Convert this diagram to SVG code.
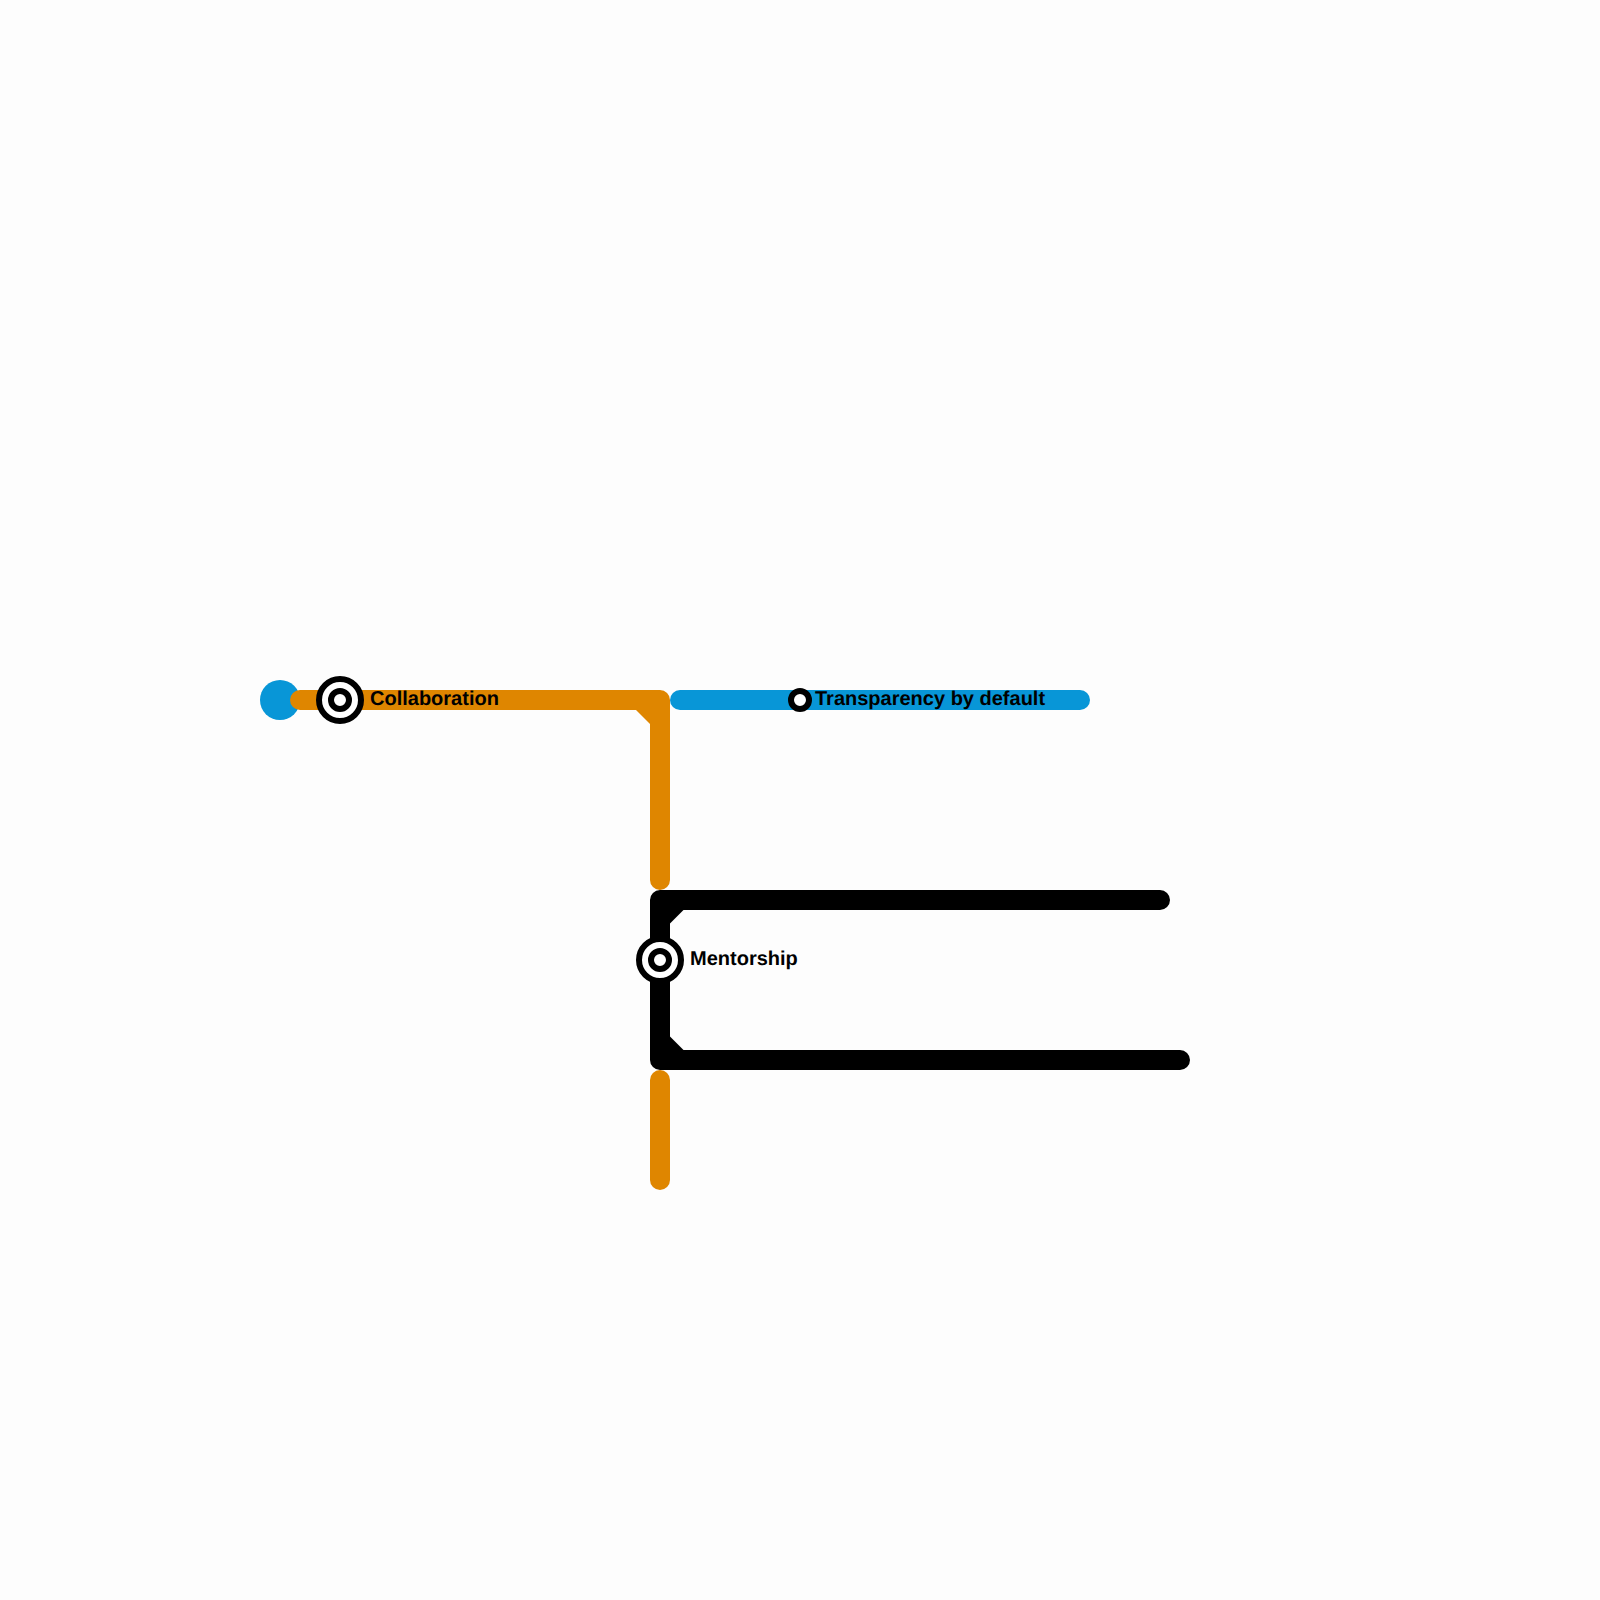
<svg xmlns="http://www.w3.org/2000/svg" width="1600" height="1600" viewBox="0 0 1600 1600">
<style>
.line{fill:none;stroke-width:20;stroke-linecap:round;stroke-linejoin:round}
.orange{stroke:#df8600}
.blue{stroke:#0896d7}
.black{stroke:#000}
.fo{fill:#df8600}
.fk{fill:#000}
.ring{fill:#fff;stroke:#000;stroke-width:6}
.label{font-family:"Liberation Sans",Arial,sans-serif;font-weight:700;font-size:20px;fill:#000;text-rendering:geometricPrecision}
</style>
<rect id="background" width="1600" height="1600" fill="#fdfdfd"/>
<circle id="line-start" cx="280" cy="700" r="20" fill="#0896d7"/>
<g id="connectors">
<path class="line orange" d="M300 700H660V880"/>
<polygon class="fo" points="634,708 652,708 652,726"/>
<path class="line orange" d="M660 1080V1180"/>
<path class="line blue" d="M680 700H1080"/>
<path class="line black" d="M1160 900H660V1060H1180"/>
<polygon class="fk" points="685.500,908 668,908 668,925.500"/>
<polygon class="fk" points="685.500,1052 668,1052 668,1034.500"/>
</g>
<g id="node-collaboration">
<circle class="ring" cx="340" cy="700" r="21"/>
<circle class="ring" cx="340" cy="700" r="9"/>
<text class="label" x="370" y="705">Collaboration</text>
</g>
<g id="node-transparency">
<circle class="ring" cx="800" cy="700" r="9"/>
<text class="label" x="815" y="705">Transparency by default</text>
</g>
<g id="node-mentorship">
<circle class="ring" cx="660" cy="960" r="21"/>
<circle class="ring" cx="660" cy="960" r="9"/>
<text class="label" x="690" y="965">Mentorship</text>
</g>
</svg>
